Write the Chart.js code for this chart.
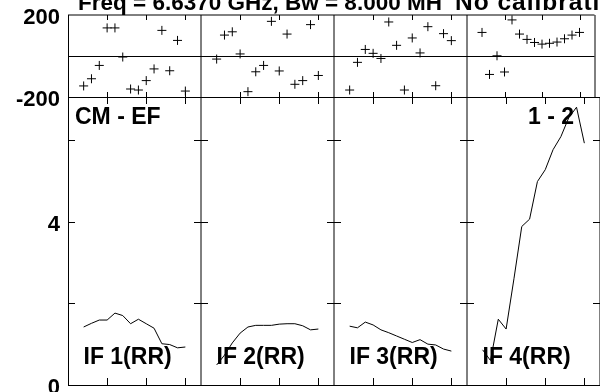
<!DOCTYPE html>
<html lang="en">
<head>
<meta charset="UTF-8">
<title>IF phase / amplitude</title>
<script src="https://cdn.jsdelivr.net/npm/chart.js"></script>
<style>
    body {
        margin: 0;
        background: #fff;
        font-family: "Liberation Sans", Arial, sans-serif;
    }
    #wrap {
        position: relative;
        width: 600px;
        height: 392px;
        overflow: hidden;
    }
    #wrap canvas {
        position: absolute;
        left: 0;
        top: 0;
    }
    .lbl {
        position: absolute;
        font-weight: bold;
        font-size: 23px;
        line-height: 23px;
        white-space: nowrap;
        color: #000;
    }
</style>
</head>
<body>
<div id="wrap">
    <div class="lbl" style="left:78px; top:-8px; font-size:22.5px; line-height:22px;">Freq = 6.6370 GHz, Bw = 8.000 MH</div>
    <div class="lbl" style="left:455px; top:-8.7px; font-size:24.5px; line-height:22px; letter-spacing:1px;">No calibration</div>
    <div class="lbl" style="left:75px; top:104.5px;">CM - EF</div>
    <div class="lbl" style="left:528px; top:104.5px;">1 - 2</div>
</div>

<script>
// channels sampled in every IF
const channels = [4, 6, 8, 10, 12, 14, 16, 18, 20, 22, 24, 26, 28, 30];

// phase (deg), one list per IF
const phase1 = [-146, -111, -46, 137, 137, -5, -161, -166, -120, -63, 125, -72, 76, -171];
const phase2 = [-15, 102, 118, 10, -174, -77, -46, 169, -73, 107, -138, -120, 153, -95];
const phase3 = [-166, -31, 32, 13, -12, 166, 52, -166, 88, 15, 143, -145, 109, 75];
const phase4 = [115, -90, 1, -78, 176, 107, 81, 66, 58, 62, 68, 84, 102, 115];

// amplitude, one list per IF
const amp1 = [1.42, 1.51, 1.59, 1.59, 1.76, 1.70, 1.50, 1.61, 1.50, 1.39, 1.01, 0.99, 0.91, 0.93];
const amp2 = [0.49, 0.73, 1.03, 1.27, 1.42, 1.46, 1.46, 1.46, 1.49, 1.50, 1.50, 1.45, 1.35, 1.37];
const amp3 = [1.44, 1.40, 1.54, 1.47, 1.35, 1.28, 1.20, 1.12, 1.04, 1.11, 1.00, 0.98, 0.88, 0.83];
const amp4 = [0.86, 0.60, 1.61, 1.37, 2.60, 3.88, 4.06, 4.98, 5.27, 5.76, 6.08, 6.54, 6.80, 5.92];

const ifNames = ['IF 1(RR)', 'IF 2(RR)', 'IF 3(RR)', 'IF 4(RR)'];
const xTicks = [10, 20, 30];
const phaseLabels = [-200, 200];
const ampTicks = [2, 4, 6];
const ampLabels = [0, 4];

const phases = [phase1, phase2, phase3, phase4];
const amps = [amp1, amp2, amp3, amp4];

// layout of the panels
const W = 600, H = 392;
const panelX = [68, 201, 334, 467];
const panelW = 133;
const phaseTop = 15, phaseBottom = 97, ampBottom = 385;

const wrap = document.getElementById('wrap');

// draws box, inner ticks and the zero line using the chart's own scales
const framePlugin = {
    id: 'frame',
    afterDraw(chart, args, opts) {
        const ctx = chart.ctx;
        const a = chart.chartArea;
        const xs = chart.scales.x, ys = chart.scales.y;
        const px = v => Math.round(v) + 0.5;
        ctx.save();
        ctx.strokeStyle = '#000';
        ctx.lineWidth = 1;
        ctx.beginPath();
        // left edge only on the first column, right edge is the soft divider
        if (opts.first) {
            ctx.moveTo(px(a.left), a.top); ctx.lineTo(px(a.left), a.bottom);
        }
        ctx.moveTo(Math.round(a.right), a.top); ctx.lineTo(Math.round(a.right), a.bottom);
        if (opts.softTop) {
            ctx.moveTo(a.left, Math.round(a.top)); ctx.lineTo(a.right, Math.round(a.top));
        } else {
            ctx.moveTo(a.left, px(a.top)); ctx.lineTo(a.right, px(a.top));
        }
        ctx.moveTo(a.left, px(a.bottom)); ctx.lineTo(a.right, px(a.bottom));
        xTicks.forEach(v => {
            const x = px(xs.getPixelForValue(v));
            ctx.moveTo(x, a.top); ctx.lineTo(x, a.top + opts.tick);
            ctx.moveTo(x, a.bottom); ctx.lineTo(x, a.bottom - opts.tick);
        });
        (opts.yTicks || []).forEach(v => {
            const y = px(ys.getPixelForValue(v));
            ctx.moveTo(a.left, y); ctx.lineTo(a.left + 7, y);
            ctx.moveTo(a.right, y); ctx.lineTo(a.right - 7, y);
        });
        if (opts.zero) {
            const y = px(ys.getPixelForValue(0));
            ctx.moveTo(a.left, y); ctx.lineTo(a.right, y);
        }
        ctx.stroke();
        ctx.restore();
    }
};

function makeChart(i, kind) {
    const canvas = document.createElement('canvas');
    canvas.width = W;
    canvas.height = H;
    wrap.insertBefore(canvas, wrap.firstChild);

    const isPhase = kind === 'phase';
    const top = isPhase ? phaseTop : phaseBottom;
    const bottom = isPhase ? phaseBottom : ampBottom;
    const vals = isPhase ? phases[i] : amps[i];
    const first = i === 0;

    const yScale = isPhase
        ? { min: -200, max: 200 }
        : { min: 0, max: 7.05 };
    yScale.display = first;
    if (first) {
        const lbls = isPhase ? phaseLabels : ampLabels;
        yScale.grid = { display: false, drawTicks: false };
        yScale.border = { display: false };
        yScale.afterBuildTicks = s => { s.ticks = lbls.map(v => ({ value: v })); };
        yScale.afterFit = s => {
            s.width = panelX[0];
            // labels may hang over the panel edge without shrinking it
            s.paddingTop = 0;
            s.paddingBottom = 0;
        };
        yScale.ticks = {
            color: '#000',
            padding: 8,
            labelOffset: 3,
            font: { family: 'Liberation Sans', weight: 'bold', size: 22 },
            callback: v => String(v)
        };
    }

    return new Chart(canvas, {
        type: isPhase ? 'scatter' : 'line',
        data: {
            datasets: [{
                data: channels.map((c, k) => ({ x: c, y: vals[k] })),
                borderColor: '#000',
                backgroundColor: '#000',
                borderWidth: 1,
                showLine: !isPhase,
                pointStyle: isPhase ? 'cross' : false,
                pointRadius: isPhase ? 4.5 : 0,
                pointBorderWidth: 1,
                tension: 0
            }]
        },
        options: {
            responsive: false,
            animation: false,
            devicePixelRatio: 1,
            events: [],
            layout: {
                padding: {
                    left: first ? 0 : panelX[i],
                    right: W - panelX[i] - panelW,
                    top: top,
                    bottom: H - bottom
                }
            },
            scales: {
                x: { type: 'linear', min: 0, max: 34, display: false },
                y: yScale
            },
            plugins: {
                legend: { display: false },
                tooltip: { enabled: false },
                frame: {
                    tick: isPhase ? 5 : 7,
                    yTicks: isPhase ? [] : ampTicks,
                    zero: isPhase,
                    first: first,
                    softTop: isPhase
                }
            }
        },
        plugins: [framePlugin]
    });
}

for (let i = 0; i < 4; i++) {
    makeChart(i, 'phase');
    makeChart(i, 'amp');
    const d = document.createElement('div');
    d.className = 'lbl';
    d.textContent = ifNames[i];
    d.style.left = (panelX[i] + 15.5) + 'px';
    d.style.top = '344.8px';
    wrap.appendChild(d);
}
</script>
</body>
</html>
